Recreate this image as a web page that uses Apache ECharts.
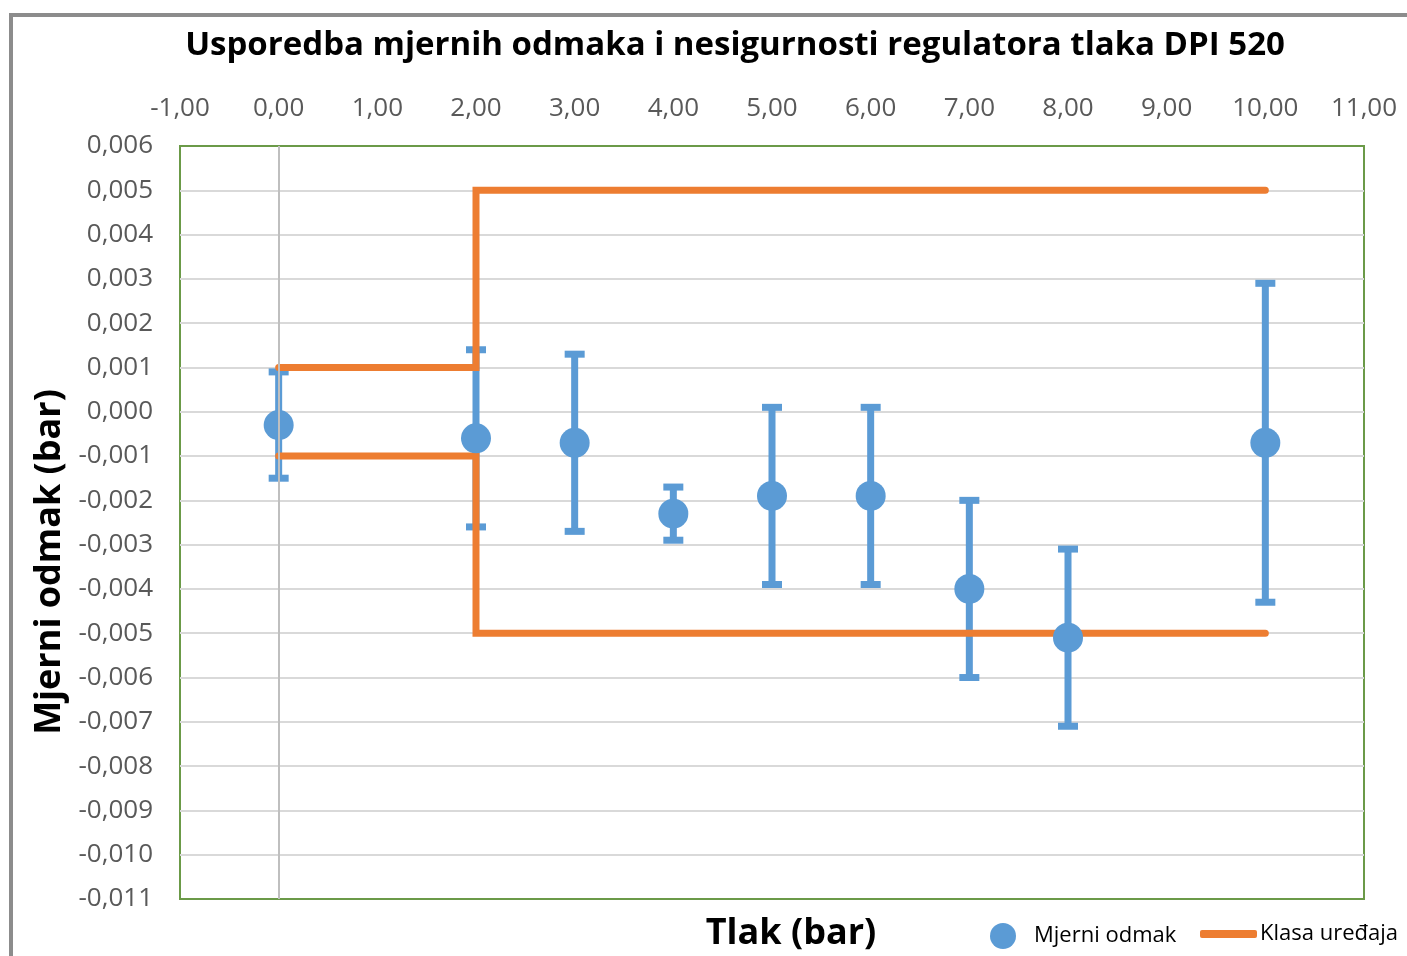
<!DOCTYPE html>
<html>
<head>
<meta charset="utf-8">
<script src="https://cdn.jsdelivr.net/npm/echarts@6/dist/echarts.min.js"></script>
<style>
  html, body { margin: 0; padding: 0; background: #fff; overflow: hidden; }
  #frame { position: absolute; left: 9px; top: 13px; width: 1420px; height: 960px;
           border-left: 4px solid #8c8c8c; border-top: 4px solid #8c8c8c; box-sizing: border-box; }
  #chart { position: absolute; left: 0; top: 0; width: 1407px; height: 956px; }
</style>
</head>
<body>
<div id="frame"></div>
<div id="chart"></div>
<script>
  'use strict';

  // measured points
  const pressures = [0, 2, 3, 4, 5, 6, 7, 8, 10];
  const offsets = [-0.0003, -0.0006, -0.0007, -0.0023, -0.0019, -0.0019, -0.0040, -0.0051, -0.0007];
  const uncertainty = [0.0012, 0.0020, 0.0020, 0.0006, 0.0020, 0.0020, 0.0020, 0.0020, 0.0036];

  // device class limits (step)
  const classX = [0, 2, 2, 10];
  const classUpper = [0.001, 0.001, 0.005, 0.005];
  const classLower = [-0.001, -0.001, -0.005, -0.005];

  const BLUE = '#5b9bd5';
  const ORANGE = '#ed7d31';
  const FONT = '"Open Sans", sans-serif';

  const chart = echarts.init(document.getElementById('chart'));

  const pointData = pressures.map((x, i) => [x, offsets[i]]);
  const errData = pressures.map((x, i) => [x, offsets[i] - uncertainty[i], offsets[i] + uncertainty[i]]);

  function renderError(params, api) {
    const lo = api.coord([api.value(0), api.value(1)]);
    const hi = api.coord([api.value(0), api.value(2)]);
    const capW = 20, capH = 7;
    const style = { fill: BLUE };
    return {
      type: 'group',
      children: [
        { type: 'line', shape: { x1: hi[0], y1: hi[1], x2: lo[0], y2: lo[1] }, style: { stroke: BLUE, lineWidth: 7 } },
        { type: 'rect', shape: { x: hi[0] - capW / 2, y: hi[1] - capH / 2, width: capW, height: capH }, style: style },
        { type: 'rect', shape: { x: lo[0] - capW / 2, y: lo[1] - capH / 2, width: capW, height: capH }, style: style }
      ]
    };
  }

  function fmtY(v) {
    if (Math.abs(v) < 1e-9) v = 0;
    return v.toFixed(3).replace('.', ',');
  }

  chart.setOption({
    animation: false,
    textStyle: { fontFamily: FONT },
    grid: { left: 180, right: 43, top: 146, bottom: 57, show: true, borderColor: '#6b9a48', borderWidth: 2, backgroundColor: 'transparent' },
    graphic: [
      { type: 'text', x: 735, y: 46, style: { text: 'Usporedba mjernih odmaka i nesigurnosti regulatora tlaka DPI 520', font: 'bold 33px ' + FONT, fill: '#000', align: 'center', verticalAlign: 'middle' } },
      { type: 'text', x: 791, y: 934, style: { text: 'Tlak (bar)', font: 'bold 36px ' + FONT, fill: '#000', align: 'center', verticalAlign: 'middle' } },
      { type: 'text', x: 50, y: 562, rotation: Math.PI / 2, style: { text: 'Mjerni odmak (bar)', font: 'bold 36px ' + FONT, fill: '#000', align: 'center', verticalAlign: 'middle' } }
    ],
    legend: [
      {
        data: [{ name: 'Mjerni odmak', icon: 'circle' }],
        left: 985, top: 918, itemWidth: 26, itemHeight: 26,
        textStyle: { fontSize: 22, color: '#000', fontFamily: FONT, padding: [0, 0, 0, 13] }
      },
      {
        data: [{ name: 'Klasa uređaja', icon: 'roundRect' }],
        left: 1195, top: 918, itemWidth: 57, itemHeight: 8,
        textStyle: { fontSize: 22, color: '#000', fontFamily: FONT, padding: [0, 0, 0, -2] }
      }
    ],
    xAxis: {
      type: 'value', position: 'top', min: -1, max: 11, interval: 1,
      axisLine: { show: false, onZero: false }, axisTick: { show: false }, splitLine: { show: false },
      axisLabel: { fontSize: 26, color: '#595959', margin: 24, formatter: v => v.toFixed(2).replace('.', ',') }
    },
    yAxis: {
      type: 'value', min: -0.011, max: 0.006, interval: 0.001,
      axisLine: { show: false }, axisTick: { show: false },
      splitLine: { showMinLine: false, showMaxLine: false, lineStyle: { color: '#d9d9d9', width: 2 } },
      axisLabel: { fontSize: 26, color: '#595959', margin: 27, formatter: fmtY }
    },
    series: [
      {
        name: 'errors', type: 'custom', renderItem: renderError, data: errData, z: 2,
        encode: { x: 0, y: [1, 2] }, silent: true,
        markLine: {
          silent: true, symbol: 'none', label: { show: false },
          lineStyle: { color: '#bfbfbf', width: 2, type: 'solid' },
          data: [{ xAxis: 0 }]
        }
      },
      {
        name: 'Klasa uređaja', type: 'line', z: 3, symbol: 'none', itemStyle: { color: ORANGE },
        lineStyle: { color: ORANGE, width: 7, cap: 'round', join: 'miter' },
        data: classX.map((x, i) => [x, classUpper[i]])
      },
      {
        name: 'Klasa uređaja', type: 'line', z: 3, symbol: 'none', itemStyle: { color: ORANGE },
        lineStyle: { color: ORANGE, width: 7, cap: 'round', join: 'miter' },
        data: classX.map((x, i) => [x, classLower[i]])
      },
      {
        name: 'Mjerni odmak', type: 'scatter', z: 4, symbol: 'circle', symbolSize: 30,
        itemStyle: { color: BLUE, opacity: 1 }, data: pointData
      }
    ]
  });

  window.addEventListener('resize', () => chart.resize());
</script>
</body>
</html>
